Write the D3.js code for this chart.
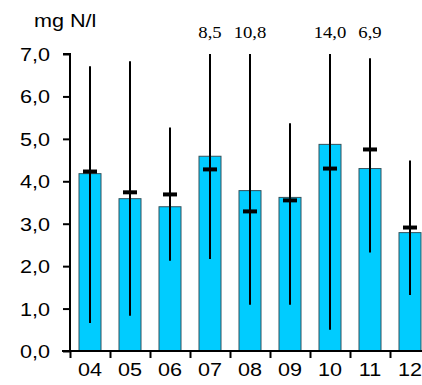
<!DOCTYPE html>
<html><head><meta charset="utf-8">
<script src="https://cdn.jsdelivr.net/npm/d3@7"></script>
<style>body{margin:0;background:#fff}svg{display:block}</style>
</head><body>
<svg id="c" width="422" height="385"></svg>
<script>
const categories = ["04","05","06","07","08","09","10","11","12"];
const barValues = [4.18,3.59,3.40,4.59,3.78,3.62,4.87,4.30,2.79];
const markValues = [4.23,3.74,3.69,4.28,3.29,3.55,4.30,4.75,2.91];
const maxValues = [6.71,6.83,5.27,8.5,10.8,5.37,14.0,6.9,4.49];
const minValues = [0.66,0.83,2.13,2.17,1.09,1.09,0.50,2.32,1.32];
const yTicks = [0,1,2,3,4,5,6,7];
const unitLabel = "mg N/l";

(function(){
const svg = d3.select("#c");
const mLeft = 70, mRight = 430, mTop = 54, mBottom = 351;
const yMax = 7;
const sx = 1.2;
const fmt = v => d3.format(".1f")(v).replace(".", ",");

const x = d3.scaleBand().domain(categories).range([mLeft, mRight]).paddingInner(0.45).paddingOuter(0.225);
const xi = d3.scaleLinear().domain([0, categories.length]).range([mLeft, mRight]);
const y = d3.scaleLinear().domain([0, yMax]).range([mBottom, mTop]);

// bars
svg.append("g").selectAll("rect").data(categories).join("rect")
  .attr("x", d => x(d)).attr("width", x.bandwidth())
  .attr("y", (d,i) => y(barValues[i])).attr("height", (d,i) => y(0) - y(barValues[i]))
  .attr("fill", "#00CCFF").attr("stroke", "#34505a").attr("stroke-width", 1);

// whiskers
svg.append("g").selectAll("line").data(categories).join("line")
  .attr("x1", d => x(d) + x.bandwidth()/2).attr("x2", d => x(d) + x.bandwidth()/2)
  .attr("y1", (d,i) => y(minValues[i])).attr("y2", (d,i) => y(Math.min(maxValues[i], yMax)))
  .attr("stroke", "#000").attr("stroke-width", 2);

// marks
svg.append("g").selectAll("line").data(categories).join("line")
  .attr("x1", d => x(d) + x.bandwidth()/2 - 7).attr("x2", d => x(d) + x.bandwidth()/2 + 7)
  .attr("y1", (d,i) => y(markValues[i])).attr("y2", (d,i) => y(markValues[i]))
  .attr("stroke", "#000").attr("stroke-width", 4);

// off-scale labels
svg.append("g").selectAll("text").data(categories.filter((d,i) => maxValues[i] > yMax - 0.15)).join("text")
  .attr("transform", d => `translate(${x(d) + x.bandwidth()/2},38) scale(1.1,1)`)
  .attr("text-anchor", "middle")
  .attr("font-family", "'Liberation Serif','Times New Roman',serif").attr("font-size", 17)
  .text(d => fmt(maxValues[categories.indexOf(d)]));

// y axis
const gy = svg.append("g").attr("transform", `translate(${mLeft},0)`)
  .call(d3.axisLeft(y).tickValues(yTicks).tickSize(7).tickFormat(fmt));
gy.select(".domain").attr("stroke-width", 2).attr("d", `M-7,${mTop}H0V${mBottom}`);
gy.selectAll(".tick line").attr("stroke-width", 2);
gy.selectAll(".tick text").attr("x", null).attr("dy", "0.36em")
  .attr("transform", `translate(-20,0) scale(${sx},1)`)
  .attr("font-family", "'Liberation Sans',Arial,sans-serif").attr("font-size", 18).attr("fill", "#000");

// x axis: tick marks at band boundaries
const gxt = svg.append("g").attr("transform", `translate(0,${mBottom})`)
  .call(d3.axisBottom(xi).tickValues(d3.range(0, categories.length + 1)).tickSize(7).tickFormat(""));
gxt.select(".domain").attr("stroke-width", 2).attr("d", `M${mLeft-8},0H${mRight}`);
gxt.selectAll(".tick line").attr("stroke-width", 2);

// x axis labels
const gx = svg.append("g").attr("transform", `translate(0,${mBottom})`)
  .call(d3.axisBottom(x).tickSize(0).tickPadding(0));
gx.select(".domain").remove();
gx.selectAll(".tick text").attr("y", null).attr("dy", null)
  .attr("transform", `translate(0,25) scale(${sx},1)`)
  .attr("font-family", "'Liberation Sans',Arial,sans-serif").attr("font-size", 18).attr("fill", "#000");

// unit label
svg.append("text").attr("transform", `translate(34,27) scale(${sx},1)`)
  .attr("font-family", "'Liberation Sans',Arial,sans-serif").attr("font-size", 18)
  .text(unitLabel);
})();
</script>
</body></html>
